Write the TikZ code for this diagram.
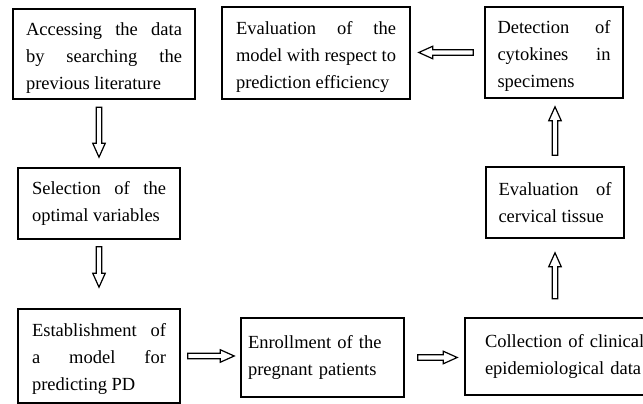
\documentclass[tikz,border=0pt]{standalone}
\usepackage{fontspec}
\setmainfont{Liberation Serif}
\usetikzlibrary{calc}
\newcommand\hollowarrow[2]{%
  \coordinate (ha) at #1;
  \coordinate (hb) at #2;
  \coordinate (hh) at ($(hb)!14pt!(ha)$);
  \draw[arrline] ($(ha)!2.8pt!90:(hb)$) -- ($(hh)!2.8pt!90:(hb)$)
    -- ($(hh)!6.3pt!90:(hb)$) -- (hb) -- ($(hh)!6.3pt!-90:(hb)$)
    -- ($(hh)!2.8pt!-90:(hb)$) -- ($(ha)!2.8pt!-90:(hb)$) -- cycle;}
\begin{document}
\begin{tikzpicture}[x=1pt,y=1pt,
  box/.style={draw, line width=1.6pt, align=justify, inner ysep=0pt,
    font=\fontsize{18.5}{27}\selectfont\hyphenpenalty10000\exhyphenpenalty10000\emergencystretch20pt},
  tdown/.style={execute at begin node={\rule{0pt}{#1}}},
  arrline/.style={draw, line width=1.2pt, line join=miter, fill=white}]
\useasboundingbox (0,0) rectangle (643,404);
\node[box, tdown=21.5pt, text width=156pt, inner xsep=13pt, minimum height=90pt] (acc) at (104,350)
  {Accessing the data\linebreak by searching the\linebreak previous literature};
\node[box, tdown=21.5pt, text width=160pt, inner xsep=14pt, minimum height=92pt] (eval) at (316,351)
  {Evaluation of the\linebreak model with respect to\linebreak prediction efficiency};
\node[box, tdown=19.5pt, text width=113pt, inner xsep=12.5pt, minimum height=91pt] (det) at (554,351.5)
  {Detection of\linebreak cytokines in\linebreak specimens};
\node[box, text width=113pt, inner xsep=12.5pt, minimum height=71pt] (cerv) at (555,201.5)
  {Evaluation of\linebreak cervical tissue};
\node[box, text width=134pt, inner xsep=14pt, minimum height=71pt] (sel) at (99,200.5)
  {Selection of the\linebreak optimal variables};
\node[box, tdown=19.5pt, text width=134pt, inner xsep=14pt, minimum height=94pt] (est) at (99,48)
  {Establishment of\linebreak a model for\linebreak predicting PD};
\node[box, align=left, text width=149pt, inner xsep=7pt, minimum height=79pt] (enr) at (322.5,46.5)
  {Enrollment of the\\ pregnant patients};
\node[box, align=left, text width=162pt, inner xsep=20pt, minimum height=77pt] (col) at (566,47.5)
  {Collection of clinical\\ epidemiological data};
\hollowarrow{($(sel.north)+(0,60)$)}{($(sel.north)+(0,10)$)}
\hollowarrow{($(sel.south)+(0,-7)$)}{($(est.north)+(0,21)$)}
\hollowarrow{($(est.east)+(7,0)$)}{($(est.east -| enr.west)+(-6,0)$)}
\hollowarrow{($(enr.east)+(13,0)$)}{($(enr.east -| col.west)+(-7,0)$)}
\hollowarrow{($(cerv.south)+(0,-60)$)}{($(cerv.south)+(0,-14)$)}
\hollowarrow{($(cerv.north)+(0,11)$)}{($(cerv.north |- det.south)+(0,-8)$)}
\hollowarrow{($(det.west)+(-11,0)$)}{($(det.west -| eval.east)+(8,0)$)}
\end{tikzpicture}
\end{document}
